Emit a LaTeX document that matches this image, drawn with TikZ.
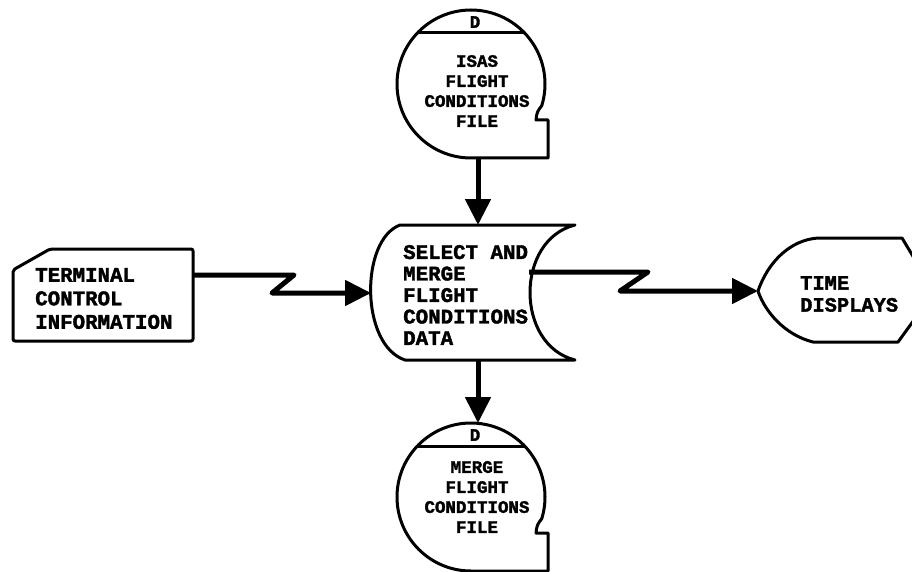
\documentclass[tikz,border=0pt]{standalone}
\usepackage{fontspec}
\newfontfamily\dfont[FakeBold=1.8]{Liberation Mono}
\usetikzlibrary{arrows.meta}
\tikzset{
  shapeline/.style={line width=3pt, line join=round, line cap=round},
  flow/.style={line width=5pt, line join=round, -{Triangle[length=26pt,width=25pt]}},
  proctext/.style={font=\dfont\bfseries\fontsize{20.8}{21.5}\selectfont, align=left, inner sep=0pt, anchor=west},
  termtext/.style={font=\dfont\bfseries\fontsize{20.8}{23.5}\selectfont, align=left, inner sep=0pt, anchor=west},
  timetext/.style={font=\dfont\bfseries\fontsize{20.4}{22}\selectfont, align=left, inner sep=0pt, anchor=west},
  filetext/.style={font=\dfont\bfseries\fontsize{17.5}{20}\selectfont, align=center, inner sep=0pt},
  dtext/.style={font=\dfont\bfseries\fontsize{17.5}{20}\selectfont, inner sep=0pt}
}
\begin{document}
\begin{tikzpicture}[x=1pt,y=-1pt]
\useasboundingbox (0,0) rectangle (912,572);

% ---- top file (ISAS) ----
\draw[shapeline] (548,158) -- (471,158) arc[start angle=90,end angle=377,radius=74]
   .. controls (537,112) .. (536,120) -- (548,120) -- cycle;
\draw[shapeline] (417.5,33) -- (524.5,33);
\node[dtext] (topD) at (475,22) {D};
\node[filetext] (topfile) at (477,91) {ISAS\\FLIGHT\\CONDITIONS\\FILE};
\coordinate (topout) at (478,157);

% ---- bottom file (MERGE) ----
\draw[shapeline] (548,571) -- (471,571) arc[start angle=90,end angle=377,radius=74]
   .. controls (537,525) .. (536,533) -- (548,533) -- cycle;
\draw[shapeline] (417.5,446) -- (524.5,446);
\node[dtext] (botD) at (475,435) {D};
\node[filetext] (botfile) at (477,497) {MERGE\\FLIGHT\\CONDITIONS\\FILE};
\coordinate (botin) at (478,423);

% ---- process ----
\draw[shapeline] (575,225) -- (400,225)
   .. controls (360,240) and (360,345) .. (405,360) -- (575,360)
   .. controls (515,345) and (515,240) .. cycle;
\node[proctext] (proc) at (403,295) {SELECT AND\\MERGE\\FLIGHT\\CONDITIONS\\DATA};
\coordinate (proctop) at (478,225);
\coordinate (procbot) at (478,360);
\coordinate (procleft) at (371,293);
\coordinate (procright) at (529,272);

% ---- terminal ----
\draw[shapeline, rounded corners=2pt] (50,249) -- (193,249) -- (193,341) -- (13,341) -- (13,270) -- cycle;
\node[termtext] (term) at (35,298.5) {TERMINAL\\CONTROL\\INFORMATION};
\coordinate (termout) at (193,275);

% ---- time displays ----
\draw[shapeline] (758,291) .. controls (768,262) and (790,240) .. (818,238)
   -- (902,238) -- (914,258) -- (914,320) -- (898,342) -- (813,342)
   .. controls (785,335) and (765,312) .. cycle;
\node[timetext] (time) at (800,294) {TIME\\DISPLAYS};
\coordinate (timein) at (758,291);

% ---- connectors ----
\draw[flow] (topout) -- (proctop);
\draw[flow] (procbot) -- (botin);
\draw[flow] (termout) -- (294,275) -- (272,293) -- (procleft);
\draw[flow] (procright) -- (648,272) -- (620,291) -- (timein);
\end{tikzpicture}
\end{document}
